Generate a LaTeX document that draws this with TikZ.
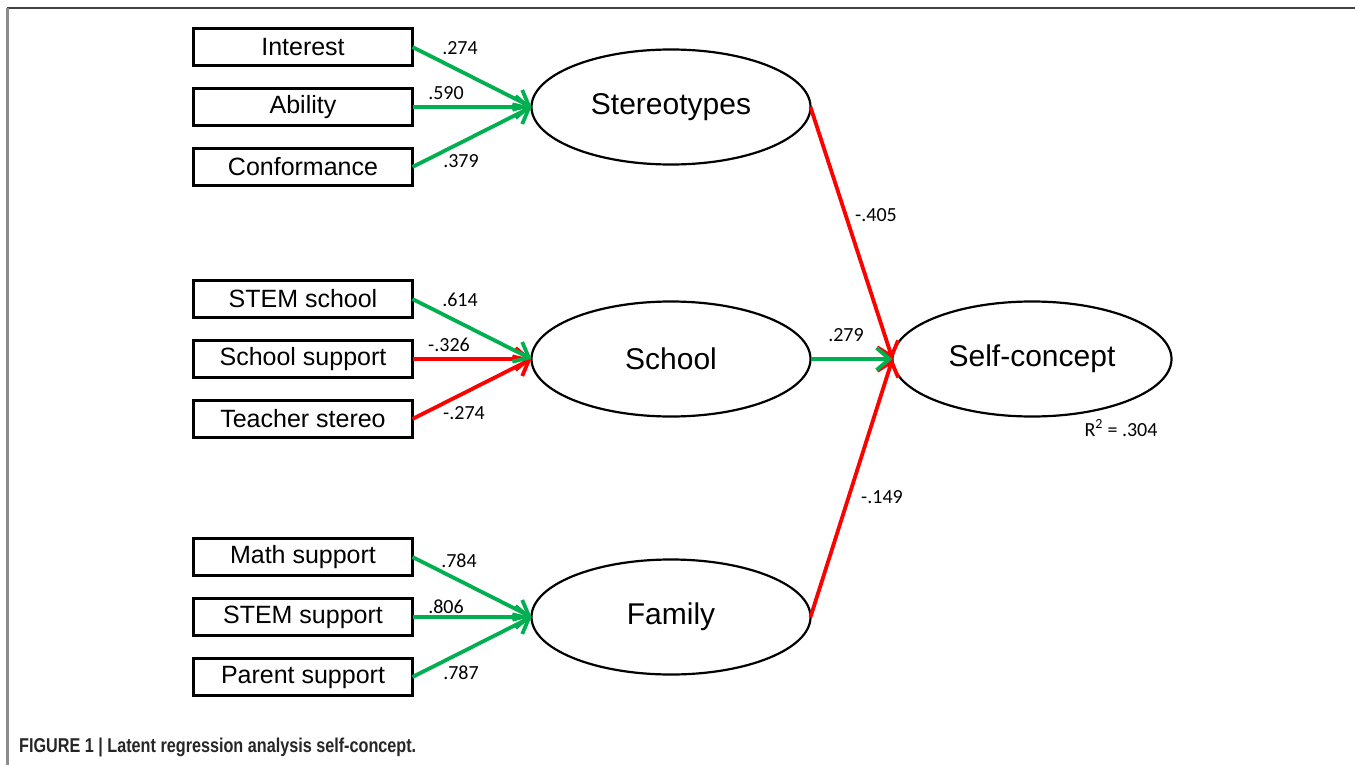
\documentclass[tikz,border=0pt]{standalone}
\usepackage{fontspec}
\setmainfont{Liberation Sans}
\newfontfamily\numfont{Carlito}
\usepackage{tikz}
\usetikzlibrary{arrows.meta,positioning,shapes.geometric}
\definecolor{pathgreen}{RGB}{0,176,80}
\definecolor{pathred}{RGB}{255,0,0}
\tikzset{
    %Define standard arrow tip
    >={Straight Barb[length=13pt,width=22pt]},
    %Define style for indicator boxes
    ind/.style={
           rectangle,
           draw=black, line width=2.6pt,
           minimum width=219pt,
           minimum height=37pt,
           inner sep=0pt, outer sep=0pt,
           font=\fontsize{25}{30}\selectfont,
           text centered},
    %Define style for latent variables
    lv/.style={
           ellipse,
           draw=black, line width=2.2pt,
           minimum width=279pt,
           minimum height=115pt,
           inner sep=0pt, outer sep=0pt,
           font=\fontsize{30}{36}\selectfont,
           text centered},
    coef/.style={
           font=\numfont\fontsize{20}{24}\selectfont,
           inner sep=0pt},
    % Define arrow styles
    plus/.style={->, draw=pathgreen, line width=3.8pt},
    minus/.style={->, draw=pathred, line width=3.8pt}
}

\begin{document}
\begin{tikzpicture}[x=1pt,y=-1pt]
\useasboundingbox (0,0) rectangle (1355,765);
% frame
\draw[line width=2.5pt, color=black!75] (7,8) -- (1355,8);
\draw[line width=2.5pt, color=black!45] (7.5,8) -- (7.5,765);
% latent variables
\node[lv] (10) at (671,107) {Stereotypes};
\node[lv, below=137pt of 10] (11) {School};
\node[lv, below=143pt of 11] (12) {Family};
\node[lv, right=82pt of 11] (13) {Self-concept};
% indicators
\node[ind, left=119pt of 10] (2) {Ability};
\node[ind, above=23pt of 2] (1) {Interest};
\node[ind, below=23pt of 2] (3) {Conformance};
\node[ind, left=119pt of 11] (5) {School support};
\node[ind, above=23pt of 5] (4) {STEM school};
\node[ind, below=23pt of 5] (6) {Teacher stereo};
\node[ind, left=119pt of 12] (8) {STEM support};
\node[ind, above=23pt of 8] (7) {Math support};
\node[ind, below=23pt of 8] (9) {Parent support};
\path
	(1.east) edge[plus] (10.west)
	(2.east) edge[plus] (10.west)
	(3.east) edge[plus] (10.west)
	(5.east) edge[minus] (11.west)
	(6.east) edge[minus] (11.west)
	(4.east) edge[plus] (11.west)
	(7.east) edge[plus] (12.west)
	(8.east) edge[plus] (12.west)
	(9.east) edge[plus] (12.west)
	(10.east) edge[minus] (13.west)
	(12.east) edge[minus] (13.west)
	(11.east) edge[plus] (13.west);
% coefficients
\node[coef] (c1) at (460,48) {.274};
\node[coef] (c2) at (446,93) {.590};
\node[coef] (c3) at (461,161) {.379};
\node[coef] (c4) at (460,300) {.614};
\node[coef] (c5) at (449,345) {-.326};
\node[coef] (c6) at (464,413) {-.274};
\node[coef] (c7) at (459,561) {.784};
\node[coef] (c8) at (446,607) {.806};
\node[coef] (c9) at (461,673) {.787};
\node[coef] (c10) at (876,215) {-.405};
\node[coef] (c11) at (846,335) {.279};
\node[coef] (c12) at (882,497) {-.149};
\node[coef] (r2) at (1121,428) {R\textsuperscript{2} = .304};
% caption
\node[anchor=west, inner sep=0pt, text=black!85,
      font=\bfseries\fontsize{20}{24}\selectfont] (cap) at (19,747)
      {\scalebox{0.81}[1]{FIGURE 1 | Latent regression analysis self-concept.}};
\end{tikzpicture}
\end{document}
